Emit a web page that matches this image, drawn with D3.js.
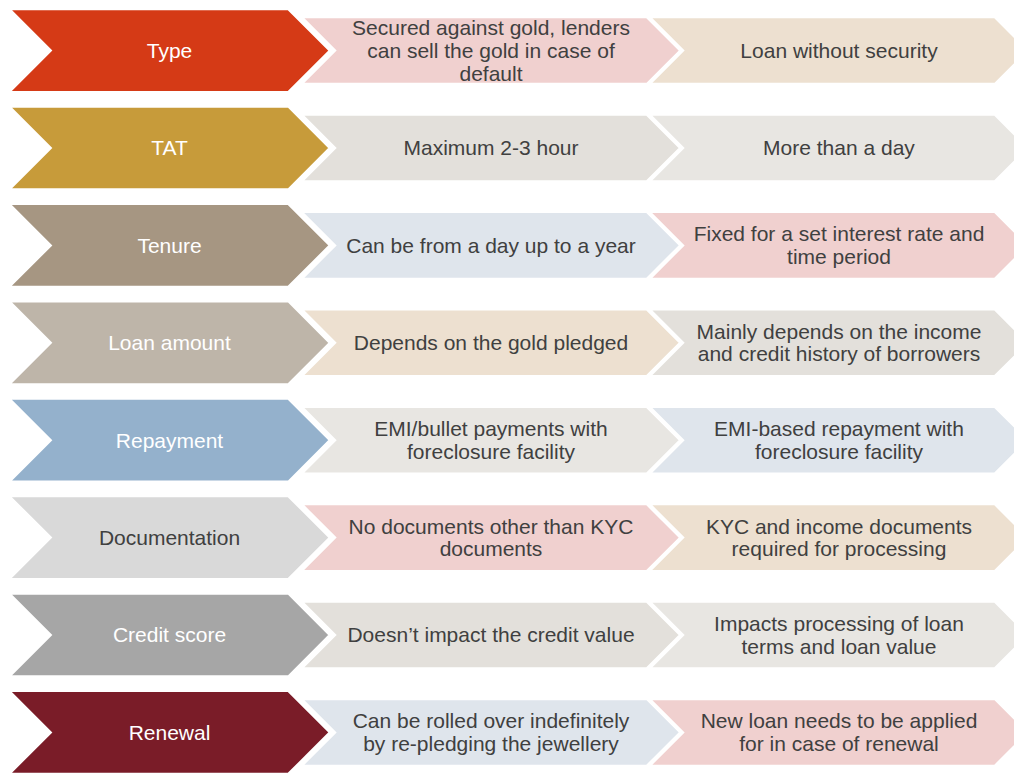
<!DOCTYPE html>
<html>
<head>
<meta charset="utf-8">
<script src="https://cdn.jsdelivr.net/npm/d3@7"></script>
<style>
  html, body { margin: 0; padding: 0; background: #ffffff; }
  svg { display: block; }
</style>
</head>
<body>
<svg id="chart" width="1014" height="774"></svg>
<script>
// ---- data ----
const categories = ["Type", "TAT", "Tenure", "Loan amount", "Repayment", "Documentation", "Credit score", "Renewal"];
const goldLoan = [
  "Secured against gold, lenders\ncan sell the gold in case of\ndefault",
  "Maximum 2-3 hour",
  "Can be from a day up to a year",
  "Depends on the gold pledged",
  "EMI/bullet payments with\nforeclosure facility",
  "No documents other than KYC\ndocuments",
  "Doesn\u2019t impact the credit value",
  "Can be rolled over indefinitely\nby re-pledging the jewellery"
];
const personalLoan = [
  "Loan without security",
  "More than a day",
  "Fixed for a set interest rate and\ntime period",
  "Mainly depends on the income\nand credit history of borrowers",
  "EMI-based repayment with\nforeclosure facility",
  "KYC and income documents\nrequired for processing",
  "Impacts processing of loan\nterms and loan value",
  "New loan needs to be applied\nfor in case of renewal"
];
const categoryColors = ["#D53A16", "#C79B3A", "#A69682", "#BEB5A9", "#94B1CC", "#D9D9D9", "#A6A6A6", "#7A1C28"];
const categoryTextColors = ["#ffffff", "#ffffff", "#ffffff", "#ffffff", "#ffffff", "#404040", "#ffffff", "#ffffff"];
const goldColors = ["#F0D0CF", "#E3E0DB", "#DFE5EC", "#EDE0D0", "#E8E6E2", "#F0D0CF", "#E3E0DB", "#DFE5EC"];
const personalColors = ["#EDE0D0", "#E8E6E2", "#F0D0CF", "#E3E0DB", "#DFE5EC", "#EDE0D0", "#E8E6E2", "#F0D0CF"];

// ---- layout ----
const svg = d3.select("#chart");
const font = "'Liberation Sans', Arial, sans-serif";
const fontSize = 21;
const lineH = 22.6;

const y = d3.scaleBand().domain(categories).range([9, 774]).paddingInner(0.146).paddingOuter(0);
const col = d3.scaleOrdinal().domain(["cat", "gold", "personal"]).range([[9, 330], [302, 680], [650, 1028]]);

function chevron(x0, x1, top, h) {
  const d = h / 2;
  const p = d3.path();
  p.moveTo(x0, top);
  p.lineTo(x1 - d, top);
  p.lineTo(x1, top + h / 2);
  p.lineTo(x1 - d, top + h);
  p.lineTo(x0, top + h);
  p.lineTo(x0 + d, top + h / 2);
  p.closePath();
  return p.toString();
}

function addText(g, cx, cy, str, color) {
  const lines = str.split("\n");
  const t = g.append("text")
    .attr("text-anchor", "middle")
    .attr("font-family", font)
    .attr("font-size", fontSize)
    .attr("fill", color);
  lines.forEach((ln, i) => {
    t.append("tspan")
      .attr("x", cx)
      .attr("y", cy + (i - (lines.length - 1) / 2) * lineH)
      .attr("dy", "0.35em")
      .text(ln);
  });
}

const rows = categories.map((c, i) => ({ c, i }));

// personal loan column (drawn first, lowest)
const secH = y.bandwidth() * 0.8;
[["personal", personalLoan, personalColors], ["gold", goldLoan, goldColors]].forEach(([key, texts, colors]) => {
  const [x0, x1] = col(key);
  const g = svg.append("g");
  rows.forEach(r => {
    const top = y(r.c) + (y.bandwidth() - secH) / 2;
    g.append("path")
      .attr("d", chevron(x0, x1, top, secH))
      .attr("fill", colors[r.i])
      .attr("stroke", "#ffffff")
      .attr("stroke-width", 2);
    addText(g, (x0 + x1) / 2, y(r.c) + y.bandwidth() / 2, texts[r.i], "#404040");
  });
});

// category column
{
  const [x0, x1] = col("cat");
  const g = svg.append("g");
  rows.forEach(r => {
    g.append("path")
      .attr("d", chevron(x0, x1, y(r.c), y.bandwidth()))
      .attr("fill", categoryColors[r.i])
      .attr("stroke", "#ffffff")
      .attr("stroke-width", 2.5);
    addText(g, (x0 + x1) / 2, y(r.c) + y.bandwidth() / 2, r.c, categoryTextColors[r.i]);
  });
}
</script>
</body>
</html>
